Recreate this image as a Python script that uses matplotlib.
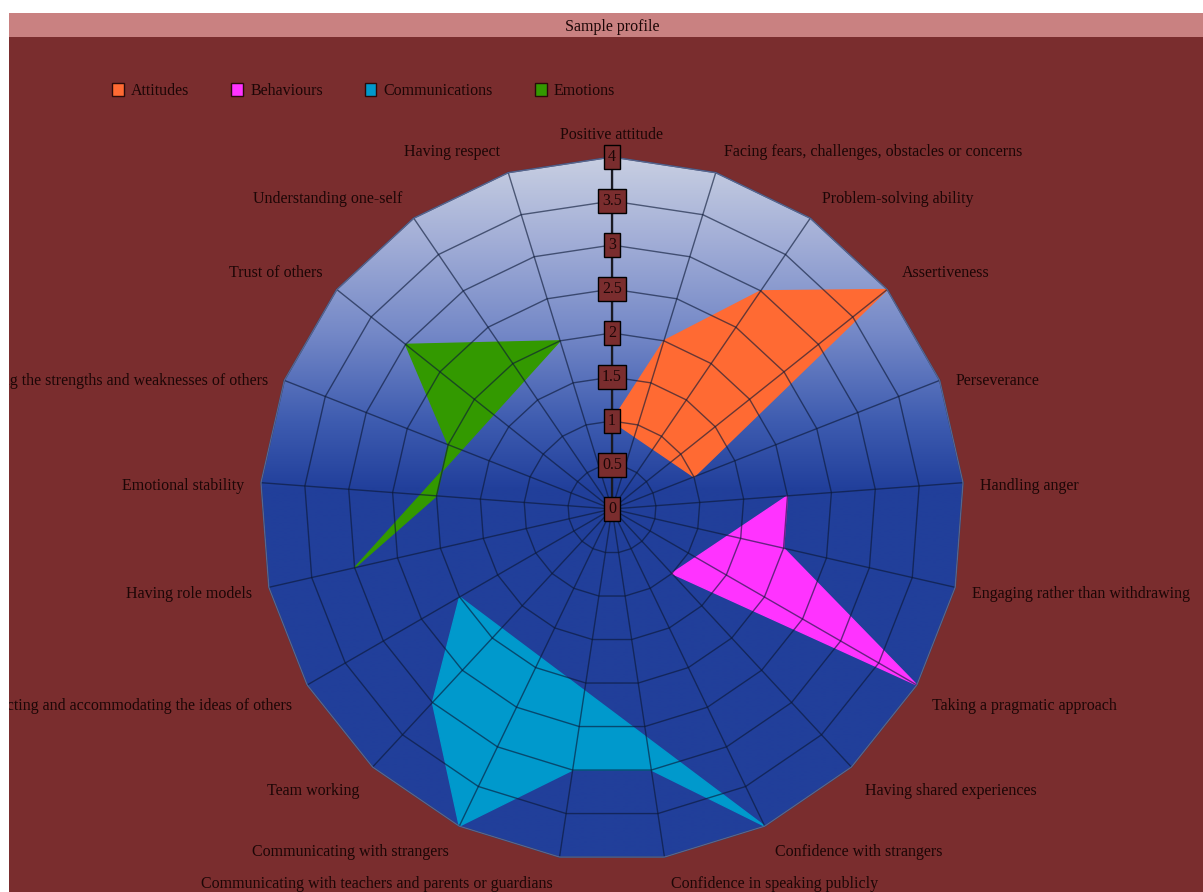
import numpy as np
import matplotlib
matplotlib.use("Agg")
import matplotlib.pyplot as plt
from matplotlib.patches import Polygon, Rectangle, Patch

# ---------------- data ----------------
categories = [
    "Positive attitude",
    "Facing fears, challenges, obstacles or concerns",
    "Problem-solving ability",
    "Assertiveness",
    "Perseverance",
    "Handling anger",
    "Engaging rather than withdrawing",
    "Taking a pragmatic approach",
    "Having shared experiences",
    "Confidence with strangers",
    "Confidence in speaking publicly",
    "Communicating with teachers and parents or guardians",
    "Communicating with strangers",
    "Team working",
    "Respecting and accommodating the ideas of others",
    "Having role models",
    "Emotional stability",
    "Recognising the strengths and weaknesses of others",
    "Trust of others",
    "Understanding one-self",
    "Having respect",
]
nan = np.nan
series_names = ["Attitudes", "Behaviours", "Communications", "Emotions"]
attitudes = [1, 2, 3, 4, 1, nan, nan, nan, nan, nan, nan, nan, nan, nan, nan, nan, nan, nan, nan, nan, nan]
behaviours = [nan, nan, nan, nan, nan, 2, 2, 4, 1, nan, nan, nan, nan, nan, nan, nan, nan, nan, nan, nan, nan]
communications = [nan, nan, nan, nan, nan, nan, nan, nan, nan, 4, 3, 3, 4, 3, 2, nan, nan, nan, nan, nan, nan]
emotions = [nan, nan, nan, nan, nan, nan, nan, nan, nan, nan, nan, nan, nan, nan, nan, 3, 2, 2, 3, nan, 2]
tick_values = [0, 0.5, 1, 1.5, 2, 2.5, 3, 3.5, 4]
tick_labels = ["0", "0.5", "1", "1.5", "2", "2.5", "3", "3.5", "4"]
title = "Sample profile"

# ---------------- style ----------------
BG = "#7a2d2e"
TITLE_BG = "#c98181"
TXT = "#1c0606"
series_colors = ["#ff6a33", "#ff33ff", "#0099cc", "#339900"]
FONT = "Liberation Serif"
FS = 11.5
W, H = 1203, 892
cx, cy, scale = 612, 509, 88.0   # pixel centre & px per unit
RMAX = 4.0

fig = plt.figure(figsize=(W / 100, H / 100), dpi=100, facecolor="white")
ax = fig.add_axes([9 / W, 0, (W - 9) / W, (H - 37) / H])
ax.set_facecolor(BG)
for sp in ax.spines.values():
    sp.set_visible(False)
ax.set_xticks([])
ax.set_yticks([])

# title bar
fig.add_artist(Rectangle((9 / W, 1 - 37 / H), (W - 9) / W, 24 / H,
                         transform=fig.transFigure, fc=TITLE_BG, ec="none", zorder=0))
fig.text(612 / W, 1 - 27 / H, title, ha="center", va="center",
         fontsize=FS, family=FONT, color=TXT)

n = len(categories)
angles = np.pi / 2 - np.arange(n) * 2 * np.pi / n
cosA, sinA = np.cos(angles), np.sin(angles)

# gradient background of the web
yy = np.linspace(-RMAX, RMAX, 800)
stop_v = [0.25, 1, 2, 3, 4]
stop_c = np.array([(34, 64, 156), (62, 92, 176), (116, 136, 199), (160, 172, 214), (200, 207, 226)])
rgb = np.stack([np.interp(yy, stop_v, stop_c[:, k]) for k in range(3)], axis=-1)
rgb[yy < 0.25] = (33, 63, 154)
im = ax.imshow(rgb[:, None, :] / 255.0, extent=(-RMAX, RMAX, -RMAX, RMAX), origin="lower",
               aspect="auto", interpolation="bilinear", zorder=1)
outer = Polygon(np.column_stack([RMAX * cosA, RMAX * sinA]), closed=True,
                fc="none", ec="#56658f", lw=1.0, zorder=4)
ax.add_patch(outer)
im.set_clip_path(outer)

# series polygons (missing values skipped)
for name, vals, col in zip(series_names, [attitudes, behaviours, communications, emotions], series_colors):
    v = np.array(vals, dtype=float)
    m = ~np.isnan(v)
    pts = np.column_stack([v[m] * cosA[m], v[m] * sinA[m]])
    ax.add_patch(Polygon(pts, closed=True, fc=col, ec=col, lw=1.0, zorder=2))

# grid rings and spokes
for r in tick_values[1:]:
    xs = np.append(r * cosA, r * cosA[0])
    ys = np.append(r * sinA, r * sinA[0])
    ax.plot(xs, ys, color="#0b1836", alpha=0.62, lw=1.0, zorder=3)
for c, s in zip(cosA, sinA):
    ax.plot([0, RMAX * c], [0, RMAX * s], color="#0b1836", alpha=0.62, lw=1.0, zorder=3)
ax.plot([0, 0], [0, RMAX], color="#1a1a22", lw=1.6, zorder=3)

# value axis labels in boxes
for v, lab in zip(tick_values, tick_labels):
    ax.text(0, v, lab, ha="center", va="center", fontsize=FS, family=FONT, color=TXT, zorder=6,
            bbox=dict(boxstyle="square,pad=0.24", fc=BG, ec="black", lw=1.0))

# category labels
rl = RMAX + 12 / scale
for i, name in enumerate(categories):
    c, s = cosA[i], sinA[i]
    if abs(c) < 0.01:
        ha, dx = "center", 0.0
    elif c > 0:
        ha, dx = "left", 5 / scale
    else:
        ha, dx = "right", -5 / scale
    if s > 0.45:
        dy = 11.5 / scale
    elif s < -0.45:
        dy = -13 / scale
    else:
        dy = -2.5 / scale
    dy -= 2 / scale
    ax.text(rl * c + dx, rl * s + dy, name, ha=ha, va="center", fontsize=FS,
            family=FONT, color=TXT, clip_on=True, zorder=6)

# legend
handles = [Patch(facecolor=c, edgecolor="#2a0a0a", lw=1.0) for c in series_colors]
fig.legend(handles, series_names, loc="center left", bbox_to_anchor=(112 / W, 1 - 91 / H),
           ncol=4, frameon=False, prop={"family": FONT, "size": FS}, labelcolor=TXT,
           handlelength=0.75, handleheight=0.85, handletextpad=0.45, columnspacing=2.6,
           borderpad=0, borderaxespad=0)

ax.set_xlim((9 - cx) / scale, (W - cx) / scale)
ax.set_ylim((cy - H) / scale, (cy - 37) / scale)

fig.savefig("out.png", dpi=100, facecolor="white")
